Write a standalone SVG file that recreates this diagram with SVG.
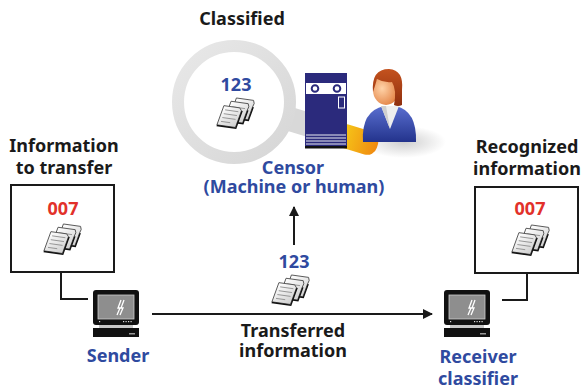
<svg xmlns="http://www.w3.org/2000/svg" width="581" height="390" viewBox="0 0 581 390">
  <style>
    .lbl { font-family: "Noto Sans", "Open Sans", sans-serif; font-weight: bold; font-size: 18px; text-anchor: middle; }
    .black { fill: #1a1a1a; }
    .blue { fill: #2f4a9f; }
    .red { fill: #e2312a; }
    .box { fill: #ffffff; stroke: #1a1a1a; stroke-width: 2; }
    .wire { fill: none; stroke: #1a1a1a; stroke-width: 2; }
    .sheet { fill: url(#paper); stroke: #444; stroke-width: 0.6; }
    .rule { stroke: #8a8a8a; stroke-width: 0.6; }
  </style>
  <defs>
    <marker id="arrow" viewBox="0 0 10 10" refX="9" refY="5" markerWidth="5" markerHeight="5" orient="auto" markerUnits="strokeWidth">
      <path d="M0,0 L10,5 L0,10 z" fill="#1a1a1a"/>
    </marker>
    <linearGradient id="paper" x1="0" y1="0" x2="1" y2="1">
      <stop offset="0" stop-color="#ffffff"/>
      <stop offset="1" stop-color="#cfcfcf"/>
    </linearGradient>
    <linearGradient id="ringGrad" x1="0" y1="0" x2="1" y2="1">
      <stop offset="0" stop-color="#e8e8e8"/>
      <stop offset="1" stop-color="#d6d6d6"/>
    </linearGradient>
    <linearGradient id="handleGrad" x1="0" y1="0" x2="1" y2="0">
      <stop offset="0" stop-color="#f7d21a"/>
      <stop offset="1" stop-color="#f08a10"/>
    </linearGradient>
    <radialGradient id="faceGrad" cx="0.35" cy="0.45" r="0.7">
      <stop offset="0" stop-color="#ffd3a8"/>
      <stop offset="1" stop-color="#e07a3a"/>
    </radialGradient>
    <linearGradient id="hairGrad" x1="0" y1="0" x2="0" y2="1">
      <stop offset="0" stop-color="#c4521e"/>
      <stop offset="1" stop-color="#8e2f0e"/>
    </linearGradient>
    <linearGradient id="suitGrad" x1="0" y1="0" x2="0" y2="1">
      <stop offset="0" stop-color="#5a6fd0"/>
      <stop offset="1" stop-color="#23338c"/>
    </linearGradient>
    <radialGradient id="shadowGrad" cx="0.5" cy="0.5" r="0.5">
      <stop offset="0" stop-color="#cfcfcf"/>
      <stop offset="1" stop-color="#cfcfcf" stop-opacity="0"/>
    </radialGradient>

    <!-- stack of three papers -->
    <symbol id="docs" viewBox="-15 -15 30 30" overflow="visible">
      <g transform="rotate(8) skewX(-12)">
        <g transform="translate(4,-5)">
          <path class="sheet" d="M-6,-8 L7,-8 Q9,-6 8,-3 L8,7 L-6,7 z"/>
          <path d="M8,-3 L8,7 L-6,7 L-6,8 L9,8 L9,-3 z" fill="#111"/>
        </g>
        <g transform="translate(1,-2)">
          <path class="sheet" d="M-6,-8 L7,-8 Q9,-6 8,-3 L8,7 L-6,7 z"/>
          <path d="M8,-3 L8,7 L-6,7 L-6,8 L9,8 L9,-3 z" fill="#111"/>
          <line class="rule" x1="-4" y1="-4" x2="6" y2="-4"/>
        </g>
        <g transform="translate(-3,2)">
          <path class="sheet" d="M-6,-8 L6,-8 L8,-6 L8,7 L-6,7 z"/>
          <line class="rule" x1="-4" y1="-5" x2="6" y2="-5"/>
          <line class="rule" x1="-4" y1="-2" x2="6" y2="-2"/>
          <line class="rule" x1="-4" y1="1" x2="6" y2="1"/>
          <line class="rule" x1="-4" y1="4" x2="3" y2="4"/>
          <path d="M8,-6 L8,7 L-6,7 L-6,8 L9,8 L9,-6 z" fill="#111"/>
        </g>
      </g>
    </symbol>

    <!-- desktop computer -->
    <symbol id="pc" viewBox="0 0 46 48" overflow="visible">
      <rect x="0" y="0" width="46" height="35" rx="3" fill="#111"/>
      <rect x="5" y="5" width="36" height="24" fill="#8e8e8e"/>
      <rect x="5" y="5" width="36" height="24" fill="none" stroke="#ccc" stroke-width="0.8"/>
      <path d="M28,10 L25,18 L27,18 L24,25 M31,10 L28,18 L30,18 L27,25" stroke="#fff" stroke-width="1.3" fill="none"/>
      <g fill="#ddd">
        <rect x="30" y="31" width="1.2" height="1.2"/>
        <rect x="32.5" y="31" width="1.2" height="1.2"/>
        <rect x="35" y="31" width="1.2" height="1.2"/>
        <rect x="37.5" y="31" width="1.2" height="1.2"/>
        <rect x="6" y="31" width="1.2" height="1.2"/>
      </g>
      <rect x="6" y="35" width="34" height="3" fill="#c8c8c8"/>
      <rect x="0" y="38" width="46" height="9" fill="#111"/>
      <rect x="36" y="43" width="6" height="1.5" fill="#999"/>
    </symbol>
  </defs>

  <!-- censor: magnifier, server and operator -->
  <g id="censor">
    <ellipse cx="404" cy="142" rx="42" ry="16" fill="url(#shadowGrad)"/>
    <g transform="rotate(17 234 102)">
      <rect x="290" y="90" width="60" height="24" rx="4" fill="#d8d8d8"/>
      <rect x="340" y="90" width="44" height="24" rx="10" fill="url(#handleGrad)"/>
    </g>
    <circle cx="234" cy="102" r="56" fill="none" stroke="url(#ringGrad)" stroke-width="12"/>
    <text class="lbl blue" x="236" y="91">123</text>
    <use href="#docs" x="213" y="95" width="40" height="40"/>

    <!-- server cabinet -->
    <g id="server">
      <rect x="305" y="73" width="42" height="74" fill="#2b2a7c"/>
      <rect x="306" y="83" width="40" height="11" fill="#ffffff"/>
      <circle cx="315" cy="88.5" r="3.3" fill="none" stroke="#2b2a7c" stroke-width="2"/>
      <circle cx="337" cy="88.5" r="3.3" fill="none" stroke="#2b2a7c" stroke-width="2"/>
      <rect x="338.5" y="97" width="6" height="11" fill="none" stroke="#ffffff" stroke-width="1"/>
      <g stroke="#ffffff" stroke-width="0.9">
        <line x1="306" y1="135" x2="346" y2="135"/>
        <line x1="306" y1="138" x2="346" y2="138"/>
        <line x1="306" y1="141" x2="346" y2="141"/>
        <line x1="306" y1="144" x2="346" y2="144"/>
      </g>
      <rect x="305" y="146" width="42" height="2.5" fill="#111"/>
    </g>

    <!-- operator -->
    <g id="operator">
      <path d="M363,142 Q361,111 384,106 L396,106 Q417,111 416,142 Z" fill="url(#suitGrad)"/>
      <path d="M381,106 L399,106 L390,129 Z" fill="#eeeeee"/>
      <path d="M381,106 L390,129 L386,106 Z" fill="#cfcfcf"/>
      <ellipse cx="386" cy="90" rx="13" ry="15" fill="url(#faceGrad)"/>
      <path d="M373,92 Q371,69 389,69 Q404,70 402,90 L402,105 Q398,107 394,105 Q397,90 392,82 Q384,83 377,79 Q375,86 373,92 Z" fill="url(#hairGrad)"/>
    </g>

    <text class="lbl blue" x="293" y="174">Censor</text>
    <text class="lbl blue" x="294" y="193">(Machine or human)</text>
  </g>

  <text class="lbl black" x="242" y="25">Classified</text>

  <!-- sender side -->
  <g id="source-info">
    <text class="lbl black" x="64" y="152">Information</text>
    <text class="lbl black" x="64" y="174">to transfer</text>
    <rect class="box" x="11" y="185" width="103" height="87"/>
    <text class="lbl red" x="63" y="215">007</text>
    <use href="#docs" x="40" y="221" width="40" height="40"/>
  </g>
  <g id="sender">
    <use href="#pc" x="93" y="290" width="46" height="48"/>
    <text class="lbl blue" x="118" y="362">Sender</text>
  </g>

  <!-- receiver side -->
  <g id="recognized-info">
    <text class="lbl black" x="527" y="153">Recognized</text>
    <text class="lbl black" x="527" y="175">information</text>
    <rect class="box" x="475" y="187" width="103" height="86"/>
    <text class="lbl red" x="530" y="215">007</text>
    <use href="#docs" x="508" y="222" width="40" height="40"/>
  </g>
  <g id="receiver">
    <use href="#pc" x="444" y="290" width="46" height="48"/>
    <text class="lbl blue" x="478" y="363">Receiver</text>
    <text class="lbl blue" x="478" y="385">classifier</text>
  </g>

  <!-- transferred message -->
  <g id="message">
    <text class="lbl blue" x="294" y="268">123</text>
    <use href="#docs" x="268" y="272" width="40" height="40"/>
    <text class="lbl black" x="293" y="337">Transferred</text>
    <text class="lbl black" x="293" y="357">information</text>
  </g>

  <!-- connectors -->
  <g id="connectors">
    <polyline class="wire" points="61,272 61,299 88,299"/>
    <polyline class="wire" points="527,273 527,300 502,300"/>
    <line class="wire" x1="152" y1="314" x2="432" y2="314" marker-end="url(#arrow)"/>
    <line class="wire" x1="294" y1="245" x2="294" y2="207" marker-end="url(#arrow)"/>
  </g>
</svg>
